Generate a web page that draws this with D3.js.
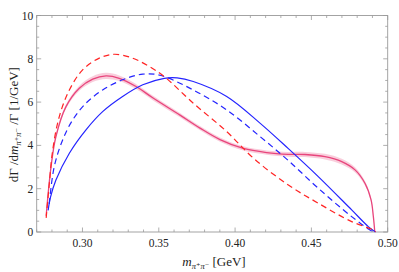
<!DOCTYPE html>
<html>
<head>
<meta charset="utf-8">
<script src="https://cdn.jsdelivr.net/npm/d3@7"></script>
<style>
  body { margin: 0; background: #fff; }
  svg text { font-family: "Liberation Serif", "DejaVu Serif", serif; fill: #222; }
</style>
</head>
<body>
<div id="chart"></div>
<script>
// curves (m in GeV, value in 1/GeV)
var redDashM = [0.2762, 0.2783, 0.2805, 0.2848, 0.2914, 0.3001, 0.311, 0.3209, 0.3329, 0.3438, 0.3536, 0.3726, 0.3945, 0.412, 0.4349, 0.4545, 0.4764, 0.4906, 0.4920];
var redDashV = [0.65, 2.25, 3.79, 5.33, 6.56, 7.49, 8.03, 8.21, 8.03, 7.64, 7.18, 5.95, 4.64, 3.41, 2.17, 1.33, 0.48, 0.09, 0.0];

var blueDashM = [0.2782, 0.2815, 0.287, 0.2936, 0.3023, 0.3132, 0.3263, 0.3395, 0.3508, 0.3726, 0.3945, 0.4163, 0.4349, 0.4545, 0.4764, 0.4895, 0.4920];
var blueDashV = [1.3, 3.02, 4.25, 5.18, 5.95, 6.56, 7.03, 7.29, 7.24, 6.56, 5.64, 4.41, 3.3, 2.02, 0.71, 0.05, 0.0];

var blueSolidM = [0.2775, 0.2790, 0.2826, 0.2914, 0.3023, 0.3132, 0.3263, 0.3395, 0.3536, 0.362, 0.3726, 0.3945, 0.4163, 0.4349, 0.4545, 0.4764, 0.4873, 0.4920];
var blueSolidV = [1.0, 1.6, 2.4, 3.64, 4.72, 5.56, 6.26, 6.80, 7.1, 7.12, 6.95, 6.26, 5.03, 3.85, 2.56, 1.02, 0.25, 0.0];

var pinkM = [0.2762, 0.2794, 0.2826, 0.2892, 0.2979, 0.3067, 0.3154, 0.3241, 0.3351, 0.346, 0.3639, 0.377, 0.3901, 0.4054, 0.4207, 0.4349, 0.4458, 0.4589, 0.4699, 0.4786, 0.4851, 0.4891, 0.4906, 0.4915];
var pinkV = [0.75, 3.02, 4.41, 5.79, 6.64, 7.06, 7.21, 7.1, 6.72, 6.2, 5.4, 4.8, 4.27, 3.86, 3.67, 3.59, 3.58, 3.48, 3.25, 2.87, 2.25, 1.48, 0.71, 0.03];
var pinkErr = [0.02, 0.06, 0.08, 0.1, 0.12, 0.13, 0.14, 0.13, 0.12, 0.11, 0.1, 0.1, 0.1, 0.1, 0.1, 0.11, 0.12, 0.13, 0.13, 0.12, 0.1, 0.07, 0.04, 0.01];

var xMajor = [0.30, 0.35, 0.40, 0.45, 0.50];
var yMajor = [0, 2, 4, 6, 8, 10];

var W = 399, H = 272;
var margin = {top: 15.5, right: 11.3, bottom: 40, left: 36.7};
var width = W - margin.left - margin.right,
    height = H - margin.top - margin.bottom;

var svg = d3.select('#chart').append('svg')
    .attr('width', W)
    .attr('height', H);

var g = svg.append('g')
    .attr('transform', 'translate(' + margin.left + ',' + margin.top + ')');

var x = d3.scaleLinear().domain([0.27, 0.50]).range([0, width]);
var y = d3.scaleLinear().domain([0, 10]).range([height, 0]);

var frameColor = "#9a9a9a";

// minor ticks every 0.01 / 0.5
var xMinor = d3.range(27, 51).map(function(d) { return d / 100; });
var yMinor = d3.range(0, 21).map(function(d) { return d / 2; });

function isMajorX(d) { return xMajor.some(function(t) { return Math.abs(t - d) < 1e-6; }); }
function isMajorY(d) { return yMajor.indexOf(d) >= 0; }

var ticks = g.append('g').attr('stroke', frameColor).attr('stroke-width', 0.8);
xMinor.forEach(function(d) {
  var len = isMajorX(d) ? 4.5 : 2.5;
  ticks.append('line').attr('x1', x(d)).attr('x2', x(d)).attr('y1', height).attr('y2', height - len);
  ticks.append('line').attr('x1', x(d)).attr('x2', x(d)).attr('y1', 0).attr('y2', len);
});
yMinor.forEach(function(d) {
  var len = isMajorY(d) ? 4.5 : 2.5;
  ticks.append('line').attr('x1', 0).attr('x2', len).attr('y1', y(d)).attr('y2', y(d));
  ticks.append('line').attr('x1', width).attr('x2', width - len).attr('y1', y(d)).attr('y2', y(d));
});

g.append('rect')
    .attr('width', width)
    .attr('height', height)
    .attr('fill', 'none')
    .attr('stroke', frameColor)
    .attr('stroke-width', 0.9);

// tick labels
g.selectAll('.xl').data(xMajor).enter().append('text')
    .attr('x', function(d) { return x(d); })
    .attr('y', height + 15)
    .attr('text-anchor', 'middle')
    .style('font-size', '11.5px')
    .text(function(d) { return d3.format('.2f')(d); });

g.selectAll('.yl').data(yMajor).enter().append('text')
    .attr('x', -3.5)
    .attr('y', function(d) { return y(d); })
    .attr('dy', '0.35em')
    .attr('text-anchor', 'end')
    .style('font-size', '11.5px')
    .text(function(d) { return d; });

// curves
function pts(ms, vs) { return ms.map(function(m, i) { return [m, vs[i]]; }); }

var smooth = d3.curveCatmullRom.alpha(0.5);

var line = d3.line()
    .x(function(d) { return x(d[0]); })
    .y(function(d) { return y(d[1]); })
    .curve(smooth);

var band = d3.area()
    .x(function(d, i) { return x(pinkM[i]); })
    .y0(function(d, i) { return y(pinkV[i] - pinkErr[i]); })
    .y1(function(d, i) { return y(pinkV[i] + pinkErr[i]); })
    .curve(smooth);

g.append('path')
    .datum(pinkM)
    .attr('d', band)
    .attr('fill', 'rgba(232,80,130,0.28)');

g.append('path')
    .datum(pts(pinkM, pinkV))
    .attr('d', line)
    .attr('fill', 'none')
    .attr('stroke', '#e8457c')
    .attr('stroke-width', 1.3);

g.append('path')
    .datum(pts(blueSolidM, blueSolidV))
    .attr('d', line)
    .attr('fill', 'none')
    .attr('stroke', '#2424ff')
    .attr('stroke-width', 1.2);

g.append('path')
    .datum(pts(blueDashM, blueDashV))
    .attr('d', line)
    .attr('fill', 'none')
    .attr('stroke', '#2424ff')
    .attr('stroke-width', 1.2)
    .attr('stroke-dasharray', '6,4');

g.append('path')
    .datum(pts(redDashM, redDashV))
    .attr('d', line)
    .attr('fill', 'none')
    .attr('stroke', '#ff2424')
    .attr('stroke-width', 1.2)
    .attr('stroke-dasharray', '6,4');

// axis labels
var xl = svg.append('text')
    .attr('x', 214)
    .attr('y', 266)
    .attr('text-anchor', 'middle')
    .style('font-size', '13px');
xl.append('tspan').style('font-style', 'italic').text('m');
xl.append('tspan').attr('dy', 3).style('font-size', '8.5px').style('font-style', 'italic').text('\u03c0\u207a\u03c0\u207b');
xl.append('tspan').attr('dy', -3).text('  [GeV]');

var yl = svg.append('text')
    .attr('transform', 'translate(18,' + (margin.top + height / 2 + 1) + ') rotate(-90)')
    .attr('text-anchor', 'middle')
    .style('font-size', '13px');
yl.append('tspan').text('d\u0393 /d');
yl.append('tspan').style('font-style', 'italic').text('m');
yl.append('tspan').attr('dy', 3).style('font-size', '8.5px').style('font-style', 'italic').text('\u03c0\u207a\u03c0\u207b');
yl.append('tspan').attr('dy', -3).text(' /\u0393 [1/GeV]');
</script>
</body>
</html>
